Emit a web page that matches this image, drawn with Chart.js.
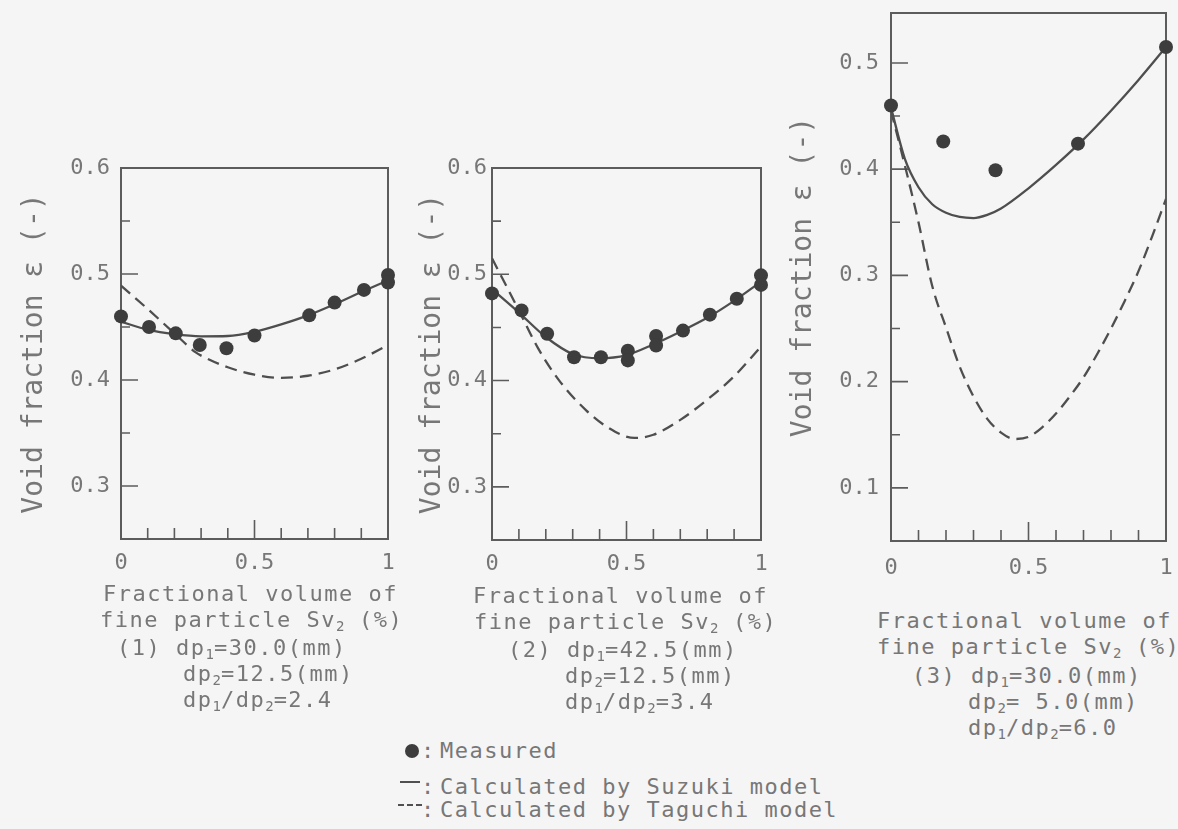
<!DOCTYPE html>
<html>
<head>
<meta charset="utf-8">
<script src="https://cdn.jsdelivr.net/npm/chart.js@4.4.0/dist/chart.umd.min.js"></script>
<style>
  html, body { margin: 0; padding: 0; background: #f6f5f5; }
  #page { position: relative; width: 1178px; height: 829px; overflow: hidden; background: #f6f5f5;
          font-family: "DejaVu Sans Mono", monospace; color: #777777; }
  #page canvas { position: absolute; }
  .txt { position: absolute; font-size: 22px; line-height: 26px; letter-spacing: 1.5px; white-space: pre; }
  .txt sub { font-size: 14px; vertical-align: -4px; line-height: 0; letter-spacing: 0; }
  .dot { position: absolute; width: 14px; height: 14px; border-radius: 50%; background: #3d3d3d; }
  .solid { position: absolute; width: 20px; height: 0; border-top: 2.5px solid #505050; }
  .dash { position: absolute; width: 24px; height: 0; border-top: 2.5px dashed #505050; }
</style>
</head>
<body>
<div id="page">
  <canvas id="c1" width="400" height="600" style="left:0;top:0"></canvas>
  <canvas id="c2" width="360" height="600" style="left:410px;top:0"></canvas>
  <canvas id="c3" width="398" height="600" style="left:780px;top:0"></canvas>

  <div class="txt" style="left:103px;top:581px">Fractional volume of</div>
  <div class="txt" style="left:100px;top:607px">fine particle Sv<sub>2</sub> (%)</div>
  <div class="txt" style="left:117px;top:635px">(1) dp<sub>1</sub>=30.0(mm)</div>
  <div class="txt" style="left:183px;top:661px">dp<sub>2</sub>=12.5(mm)</div>
  <div class="txt" style="left:183px;top:687px">dp<sub>1</sub>/dp<sub>2</sub>=2.4</div>

  <div class="txt" style="left:473px;top:583px">Fractional volume of</div>
  <div class="txt" style="left:474px;top:609px">fine particle Sv<sub>2</sub> (%)</div>
  <div class="txt" style="left:508px;top:637px">(2) dp<sub>1</sub>=42.5(mm)</div>
  <div class="txt" style="left:565px;top:663px">dp<sub>2</sub>=12.5(mm)</div>
  <div class="txt" style="left:565px;top:689px">dp<sub>1</sub>/dp<sub>2</sub>=3.4</div>

  <div class="txt" style="left:877px;top:608px">Fractional volume of</div>
  <div class="txt" style="left:877px;top:634px">fine particle Sv<sub>2</sub> (%)</div>
  <div class="txt" style="left:912px;top:663px">(3) dp<sub>1</sub>=30.0(mm)</div>
  <div class="txt" style="left:968px;top:689px">dp<sub>2</sub>= 5.0(mm)</div>
  <div class="txt" style="left:968px;top:715px">dp<sub>1</sub>/dp<sub>2</sub>=6.0</div>

  <div class="dot" style="left:405px;top:744px"></div>
  <div class="txt" style="left:421px;top:738px">:</div>
  <div class="txt" style="left:440px;top:738px">Measured</div>
  <div class="solid" style="left:400px;top:781px"></div>
  <div class="txt" style="left:421px;top:774px">:</div>
  <div class="txt" style="left:440px;top:774px">Calculated by Suzuki model</div>
  <div class="dash" style="left:398px;top:804px"></div>
  <div class="txt" style="left:421px;top:797px">:</div>
  <div class="txt" style="left:440px;top:797px">Calculated by Taguchi model</div>
</div>

<script>
// (1) dp1=30.0mm, dp2=12.5mm
const meas1X = [0, 0.105, 0.205, 0.295, 0.395, 0.5, 0.705, 0.8, 0.91, 1, 1];
const meas1Y = [0.460, 0.450, 0.444, 0.433, 0.430, 0.442, 0.461, 0.473, 0.485, 0.499, 0.492];
const suzuki1X = [0, 0.1, 0.2, 0.3, 0.4, 0.5, 0.6, 0.7, 0.8, 0.9, 1];
const suzuki1Y = [0.455, 0.4475, 0.4432, 0.4412, 0.4415, 0.4455, 0.4525, 0.461, 0.4715, 0.483, 0.494];
const taguchi1X = [0, 0.1, 0.2, 0.28, 0.3, 0.4, 0.5, 0.6, 0.7, 0.8, 0.9, 1];
const taguchi1Y = [0.489, 0.467, 0.444, 0.426, 0.423, 0.412, 0.405, 0.402, 0.404, 0.410, 0.420, 0.433];

// (2) dp1=42.5mm, dp2=12.5mm
const meas2X = [0, 0.11, 0.205, 0.305, 0.405, 0.505, 0.505, 0.61, 0.61, 0.71, 0.81, 0.91, 1, 1];
const meas2Y = [0.482, 0.466, 0.444, 0.422, 0.422, 0.428, 0.419, 0.442, 0.433, 0.447, 0.462, 0.477, 0.499, 0.490];
const suzuki2X = [0, 0.1, 0.2, 0.3, 0.4, 0.5, 0.6, 0.7, 0.8, 0.9, 1];
const suzuki2Y = [0.486, 0.464, 0.441, 0.425, 0.421, 0.424, 0.434, 0.446, 0.459, 0.475, 0.493];
const taguchi2X = [0, 0.1, 0.17, 0.25, 0.35, 0.43, 0.53, 0.6, 0.7, 0.8, 0.9, 1];
const taguchi2Y = [0.515, 0.466, 0.431, 0.400, 0.372, 0.356, 0.346, 0.349, 0.363, 0.382, 0.404, 0.432];

// (3) dp1=30.0mm, dp2=5.0mm
const meas3X = [0, 0.19, 0.38, 0.68, 1];
const meas3Y = [0.460, 0.426, 0.399, 0.424, 0.515];
const suzuki3X = [0, 0.05, 0.1, 0.15, 0.2, 0.25, 0.3, 0.35, 0.4, 0.5, 0.6, 0.7, 0.8, 0.9, 1];
const suzuki3Y = [0.458, 0.410, 0.383, 0.367, 0.359, 0.355, 0.354, 0.357, 0.363, 0.382, 0.404, 0.428, 0.455, 0.484, 0.515];
const taguchi3X = [0, 0.05, 0.1, 0.15, 0.2, 0.25, 0.3, 0.35, 0.4, 0.45, 0.5, 0.55, 0.6, 0.65, 0.7, 0.75, 0.8, 0.85, 0.9, 0.95, 1];
const taguchi3Y = [0.455, 0.404, 0.350, 0.290, 0.251, 0.214, 0.186, 0.165, 0.152, 0.146, 0.148, 0.157, 0.170, 0.186, 0.204, 0.226, 0.250, 0.276, 0.304, 0.337, 0.372];

const xTickLabels = {0: "0", 0.5: "0.5", 1: "1"};

const TEXT = "#777777";
const AXIS = "#5c5c5c";
const LINE = "#4e4e4e";
const DOT = "#3d3d3d";
const FONT = "'DejaVu Sans Mono', monospace";

const pts = (xs, ys) => xs.map((x, i) => ({ x: x, y: ys[i] }));
const isMajor = (v, step) => Math.abs(v / step - Math.round(v / step)) < 1e-6;

// box around the plot area + tick marks pointing inwards (longer on major ticks)
const framePlugin = {
    id: "frame",
    beforeDatasetsDraw(chart) {
        const { ctx, chartArea: a, scales } = chart;
        ctx.save();
        ctx.strokeStyle = AXIS;
        ctx.lineWidth = 2;
        ctx.strokeRect(a.left, a.top, a.right - a.left, a.bottom - a.top);
        ctx.lineWidth = 1.6;
        ctx.beginPath();
        scales.x.ticks.forEach((t) => {
            const px = scales.x.getPixelForValue(t.value);
            const len = isMajor(t.value, 0.5) ? 19 : 11;
            ctx.moveTo(px, a.bottom);
            ctx.lineTo(px, a.bottom - len);
        });
        scales.y.ticks.forEach((t) => {
            const py = scales.y.getPixelForValue(t.value);
            const len = isMajor(t.value, 0.1) ? 17 : 9;
            ctx.moveTo(a.left, py);
            ctx.lineTo(a.left + len, py);
        });
        ctx.stroke();
        ctx.restore();
    },
};

function makePanel(id, p) {
    const ctx = document.getElementById(id).getContext("2d");
    new Chart(ctx, {
        type: "scatter",
        data: {
            datasets: [
                {
                    label: "Measured",
                    data: pts(p.measX, p.measY),
                    showLine: false,
                    pointRadius: 7,
                    pointBorderWidth: 0,
                    pointBackgroundColor: DOT,
                    clip: false,
                },
                {
                    label: "Calculated by Suzuki model",
                    data: pts(p.suzX, p.suzY),
                    showLine: true,
                    pointRadius: 0,
                    borderColor: LINE,
                    borderWidth: 2.3,
                    cubicInterpolationMode: "monotone",
                },
                {
                    label: "Calculated by Taguchi model",
                    data: pts(p.tagX, p.tagY),
                    showLine: true,
                    pointRadius: 0,
                    borderColor: LINE,
                    borderWidth: 2.3,
                    borderDash: [12, 7],
                    cubicInterpolationMode: "monotone",
                },
            ],
        },
        options: {
            responsive: false,
            animation: false,
            layout: { padding: { top: p.top, right: p.right, bottom: 0, left: 0 } },
            plugins: { legend: { display: false }, tooltip: { enabled: false } },
            scales: {
                x: {
                    type: "linear",
                    min: 0,
                    max: 1,
                    afterFit: (s) => {
                        s.height = p.xh;
                        s.paddingLeft = 0;
                        s.paddingRight = 0;
                    },
                    border: { display: false },
                    grid: { display: false, drawTicks: false },
                    ticks: {
                        stepSize: 0.1,
                        autoSkip: false,
                        maxRotation: 0,
                        padding: p.xpad,
                        color: TEXT,
                        font: { family: FONT, size: 22 },
                        callback: (v) =>
                            isMajor(v, 0.5) ? xTickLabels[Math.round(v * 2) / 2] : "",
                    },
                },
                y: {
                    type: "linear",
                    min: p.yMin,
                    max: p.yMax,
                    afterFit: (s) => {
                        s.width = p.yw;
                        s.paddingTop = 0;
                        s.paddingBottom = 0;
                    },
                    border: { display: false },
                    grid: { display: false, drawTicks: false },
                    ticks: {
                        stepSize: 0.05,
                        includeBounds: false,
                        autoSkip: false,
                        padding: p.ypad,
                        color: TEXT,
                        font: { family: FONT, size: 22 },
                        callback: (v) => (isMajor(v, 0.1) ? v.toFixed(1) : ""),
                    },
                    title: {
                        display: true,
                        text: "Void fraction ε (-)",
                        color: TEXT,
                        font: { family: FONT, size: 28 },
                        padding: { top: p.tpad, bottom: 0 },
                    },
                },
            },
        },
        plugins: [framePlugin],
    });
}

makePanel("c1", {
    measX: meas1X, measY: meas1Y, suzX: suzuki1X, suzY: suzuki1Y, tagX: taguchi1X, tagY: taguchi1Y,
    yMin: 0.25, yMax: 0.6, top: 168, right: 12, xh: 61, yw: 121, xpad: 11, ypad: 11, tpad: 18,
});
makePanel("c2", {
    measX: meas2X, measY: meas2Y, suzX: suzuki2X, suzY: suzuki2Y, tagX: taguchi2X, tagY: taguchi2Y,
    yMin: 0.25, yMax: 0.6, top: 168, right: 9, xh: 60, yw: 82, xpad: 11, ypad: 5, tpad: 6,
});
makePanel("c3", {
    measX: meas3X, measY: meas3Y, suzX: suzuki3X, suzY: suzuki3Y, tagX: taguchi3X, tagY: taguchi3Y,
    yMin: 0.05, yMax: 0.547, top: 13, right: 12, xh: 59, yw: 111, xpad: 14, ypad: 12, tpad: 7,
});
</script>
</body>
</html>
